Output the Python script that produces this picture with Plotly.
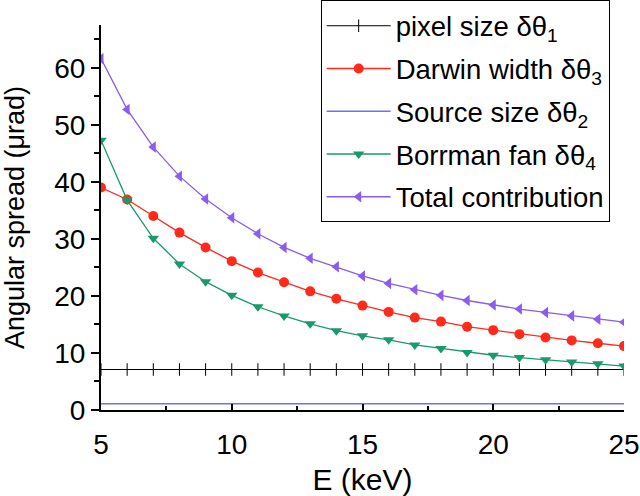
import plotly.graph_objects as go

energy = list(range(5, 26))

pixel_size = [7.1] * len(energy)
source_size = [1.1] * len(energy)
darwin = [39.0, 36.9, 34.0, 31.1, 28.5, 26.1, 24.1, 22.4, 20.8, 19.5, 18.3,
          17.2, 16.2, 15.5, 14.6, 14.0, 13.3, 12.7, 12.2, 11.7, 11.2]
borrman = [47.3, 36.8, 30.1, 25.6, 22.5, 20.1, 18.1, 16.5, 15.1, 13.9, 13.0,
           12.3, 11.4, 10.8, 10.1, 9.6, 9.2, 8.8, 8.4, 8.1, 7.7]
total = [61.6, 52.7, 46.1, 41.0, 37.0, 33.7, 30.9, 28.5, 26.6, 25.1, 23.5,
         22.2, 21.1, 20.1, 19.2, 18.4, 17.7, 17.1, 16.5, 15.9, 15.4]

names = ["pixel size δθ<sub>1</sub>", "Darwin width δθ<sub>3</sub>",
         "Source size δθ<sub>2</sub>", "Borrman fan δθ<sub>4</sub>",
         "Total contribution"]

FONT = "Liberation Sans, Arial, Helvetica, sans-serif"

fig = go.Figure()
fig.add_trace(go.Scatter(x=energy, y=pixel_size, name=names[0], mode="lines+markers",
                         line=dict(color="#000000", width=1),
                         marker=dict(symbol="line-ns", size=9, line=dict(color="#000000", width=1)),
                         legendgroup="a"))
fig.add_trace(go.Scatter(x=energy, y=darwin, name=names[1], mode="lines+markers",
                         line=dict(color="#ff2a1a", width=1.3),
                         marker=dict(symbol="circle", size=10, color="#ff2a1a"),
                         legendgroup="b"))
fig.add_trace(go.Scatter(x=energy, y=source_size, name=names[2], mode="lines",
                         line=dict(color="#6f6fff", width=1.5),
                         legendgroup="c"))
fig.add_trace(go.Scatter(x=energy, y=borrman, name=names[3], mode="lines+markers",
                         line=dict(color="#1a9a6a", width=1.3),
                         marker=dict(symbol="triangle-down", size=10, color="#1a9a6a"),
                         legendgroup="d"))
fig.add_trace(go.Scatter(x=energy, y=total, name=names[4], mode="lines+markers",
                         line=dict(color="#8a5cf0", width=1.3),
                         marker=dict(symbol="triangle-left", size=10, color="#8a5cf0"),
                         legendgroup="e"))

fig.update_layout(
    width=640, height=496,
    margin=dict(l=101, r=16, t=25, b=86, autoexpand=False),
    paper_bgcolor="white", plot_bgcolor="white",
    font=dict(family=FONT, color="black", size=27),
    showlegend=True,
    legend=dict(x=0.42, y=1.064, xanchor="left", yanchor="top",
                bgcolor="white", bordercolor="black", borderwidth=1,
                font=dict(size=27.5, family=FONT), traceorder="grouped",
                tracegroupgap=4, itemwidth=64),
    xaxis=dict(range=[5, 25], tickvals=[5, 10, 15, 20, 25], automargin=False,
               showgrid=False, zeroline=False, showline=True,
               linecolor="black", linewidth=2,
               ticks="inside", ticklen=6, tickwidth=1.5, tickcolor="black",
               minor=dict(ticks="inside", ticklen=4, dtick=2.5, tickcolor="black", tickwidth=1.5),
               tickfont=dict(size=28), ticklabelstandoff=8,
               title=dict(text="E (keV)", font=dict(size=30), standoff=22)),
    yaxis=dict(range=[0, 67.5], tickvals=[0, 10, 20, 30, 40, 50, 60], automargin=False,
               showgrid=False, zeroline=False, showline=True,
               linecolor="black", linewidth=2,
               ticks="outside", ticklen=8, tickwidth=1.5, tickcolor="black",
               minor=dict(ticks="outside", ticklen=5, dtick=5, tickcolor="black", tickwidth=1.5),
               tickfont=dict(size=28),
               title=dict(text="Angular spread (μrad)", font=dict(size=27), standoff=40)),
)

fig.write_html("out.html", config={"displayModeBar": False},
               post_script="document.body.style.margin='0';document.body.style.padding='0';")
